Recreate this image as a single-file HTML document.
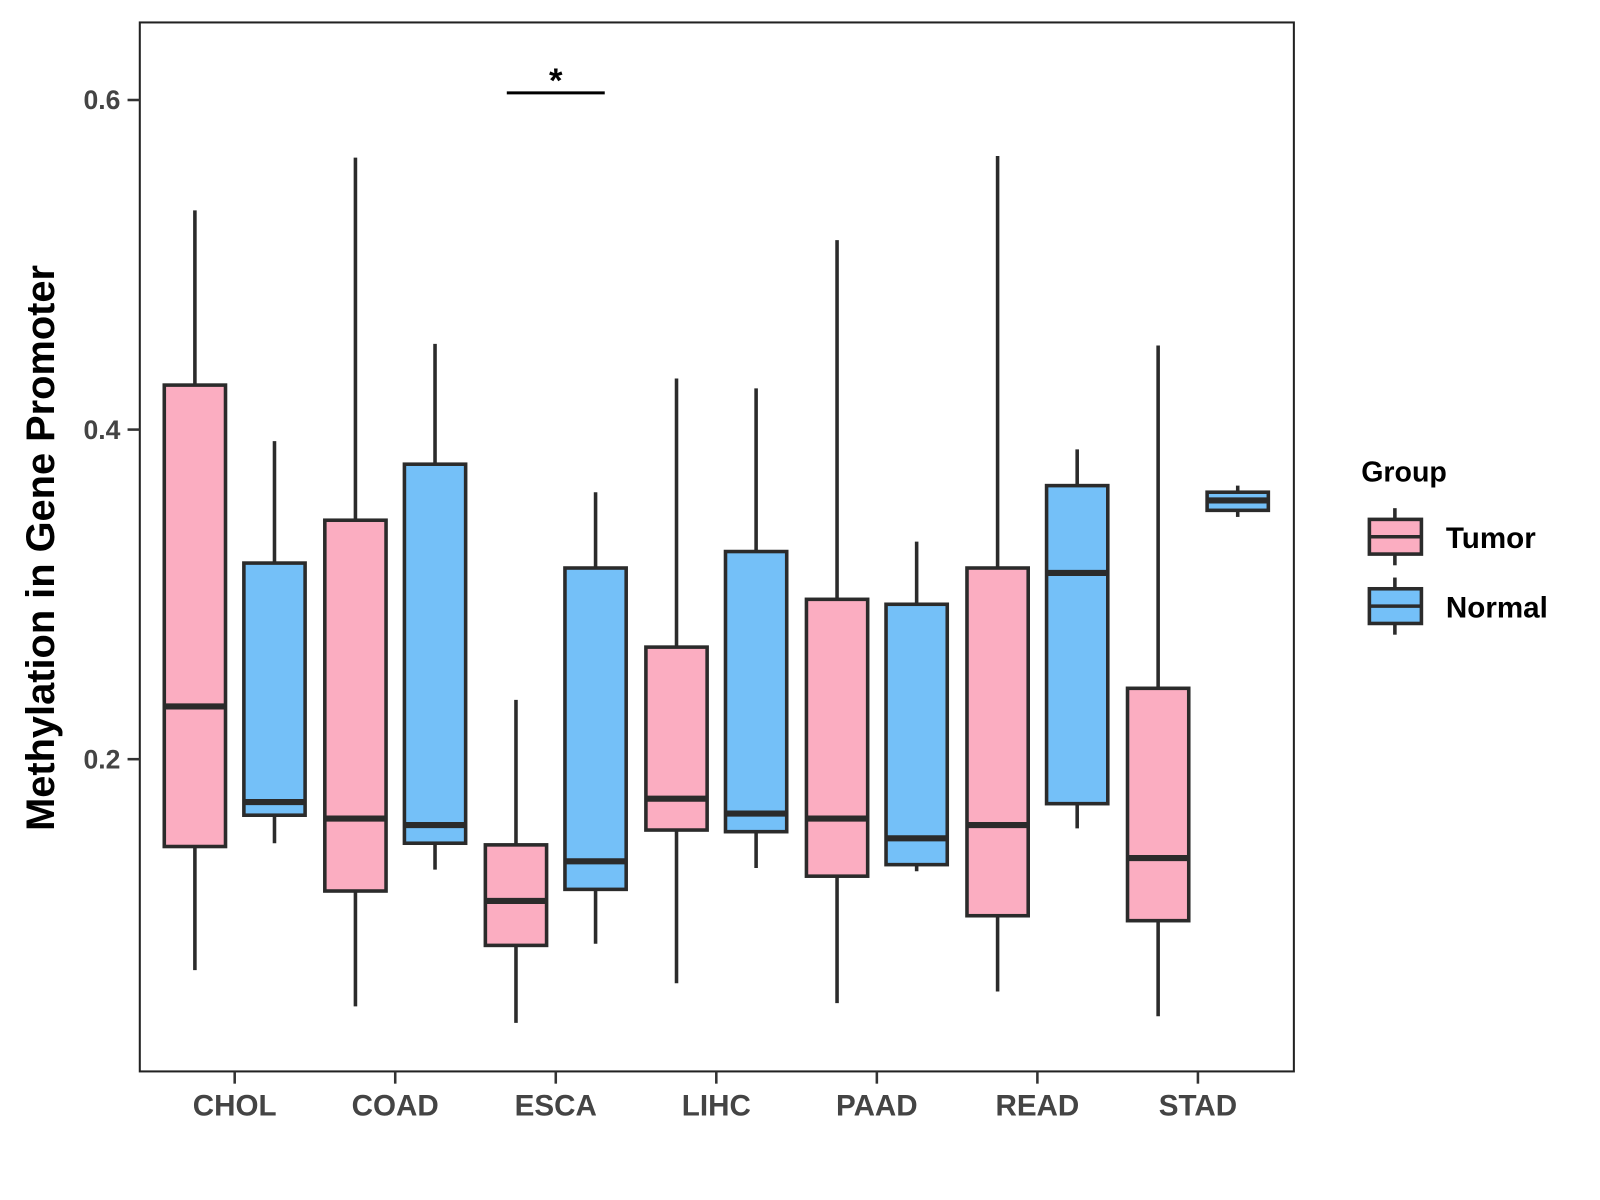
<!DOCTYPE html>
<html><head><meta charset="utf-8"><style>
html,body{margin:0;padding:0;background:#fff;width:1600px;height:1200px;overflow:hidden}
svg{display:block}
text{font-family:"Liberation Sans",Arial,sans-serif;font-weight:bold}
</style></head><body>
<svg id="chart" width="1600" height="1200">
<g transform="scale(1.0204)">
<rect x="137" y="22" width="1131" height="1028" fill="#fff" stroke="#222" stroke-width="2"/>
<g id="marks"></g>
<g id="axes"></g>
<text x="40" y="537" transform="rotate(-90 40 537)" text-anchor="middle" dominant-baseline="central" font-size="39" fill="#000">Methylation in Gene Promoter</text>
<g>
<text x="1334" y="472" font-size="28" fill="#000">Group</text>
<g>
<line x1="1367" y1="498" x2="1367" y2="554" stroke="#2b2b2b" stroke-width="3.5"/>
<rect x="1342" y="509" width="51" height="34" fill="#FBADC1" stroke="#2b2b2b" stroke-width="3.5"/>
<line x1="1342" y1="526" x2="1393" y2="526" stroke="#2b2b2b" stroke-width="3.5"/>
<text x="1417" y="537" font-size="29" fill="#000">Tumor</text></g>
<g>
<line x1="1367" y1="566" x2="1367" y2="622" stroke="#2b2b2b" stroke-width="3.5"/>
<rect x="1342" y="577" width="51" height="34" fill="#74C0F8" stroke="#2b2b2b" stroke-width="3.5"/>
<line x1="1342" y1="594" x2="1393" y2="594" stroke="#2b2b2b" stroke-width="3.5"/>
<text x="1417" y="605" font-size="29" fill="#000">Normal</text></g>
</g>
</g>
</svg>
<script>
const categories=["CHOL","COAD","ESCA","LIHC","PAAD","READ","STAD"];
const tumorLow=[0.072,0.050,0.040,0.064,0.052,0.059,0.044];
const tumorQ1=[0.147,0.120,0.087,0.157,0.129,0.105,0.102];
const tumorMed=[0.232,0.164,0.114,0.176,0.164,0.160,0.140];
const tumorQ3=[0.427,0.345,0.148,0.268,0.297,0.316,0.243];
const tumorHigh=[0.533,0.565,0.236,0.431,0.515,0.566,0.451];
const normalLow=[0.149,0.133,0.088,0.134,0.132,0.158,0.347];
const normalQ1=[0.166,0.149,0.121,0.156,0.136,0.173,0.351];
const normalMed=[0.174,0.160,0.138,0.167,0.152,0.313,0.357];
const normalQ3=[0.319,0.379,0.316,0.326,0.294,0.366,0.362];
const normalHigh=[0.393,0.452,0.362,0.425,0.332,0.388,0.366];
const yTicks=[0.2,0.4,0.6];
const NS="http://www.w3.org/2000/svg";
function y(v){return 744-(v-0.2)*1615;}
function x(i){return 230+i*157.33;}
function mk(tag,attrs,parent){const e=document.createElementNS(NS,tag);for(const k in attrs)e.setAttribute(k,attrs[k]);parent.appendChild(e);return e;}
const marks=document.getElementById('marks'),axes=document.getElementById('axes');
const groups=[["tumor",-39,"#FBADC1",tumorLow,tumorQ1,tumorMed,tumorQ3,tumorHigh],["normal",39,"#74C0F8",normalLow,normalQ1,normalMed,normalQ3,normalHigh]];
categories.forEach((c,i)=>{
  groups.forEach(g=>{
    const cx=x(i)+g[1],w=30;
    const grp=mk('g',{},marks);
    
    
    mk('line',{x1:cx,x2:cx,y1:y(g[7][i]),y2:y(g[3][i]),stroke:'#2b2b2b','stroke-width':3.5},grp);
    mk('rect',{x:cx-w,y:y(g[6][i]),width:2*w,height:y(g[4][i])-y(g[6][i]),fill:g[2],stroke:'#2b2b2b','stroke-width':3.5},grp);
    mk('line',{x1:cx-w,x2:cx+w,y1:y(g[5][i]),y2:y(g[5][i]),stroke:'#2b2b2b','stroke-width':6},grp);
  });
  mk('line',{x1:x(i),x2:x(i),y1:1050,y2:1062,stroke:'#333','stroke-width':2.5},axes);
  const t=mk('text',{x:x(i),y:1093,'text-anchor':'middle','font-size':29,fill:'#444'},axes);
  
  
  t.textContent=c;
});
yTicks.forEach(v=>{
  mk('line',{x1:125,x2:137,y1:y(v),y2:y(v),stroke:'#333','stroke-width':2.5},axes);
  const t=mk('text',{x:118,y:y(v)+9,'text-anchor':'end','font-size':26,fill:'#444'},axes);
  
  
  t.textContent=v.toFixed(1);
});
const sig=mk('g',{},marks);


mk('line',{x1:x(2)-48,x2:x(2)+48,y1:91,y2:91,stroke:'#000','stroke-width':3},sig);
const st=mk('text',{x:x(2),y:90,'text-anchor':'middle','font-size':34,fill:'#000'},sig);
st.textContent='*';
</script>
</body></html>
